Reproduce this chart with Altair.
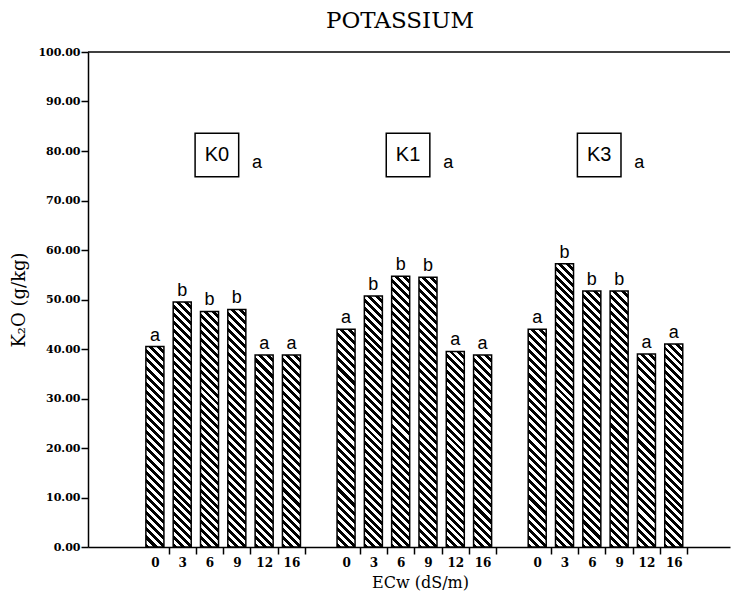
import json
import altair as alt
import pandas as pd

# ---------------- data ----------------
groups = ["K0", "K1", "K3"]
ecw_labels = ["0", "3", "6", "9", "12", "16"]
k0_values = [40.5, 49.5, 47.6, 48.0, 38.8, 38.8]
k1_values = [44.0, 50.7, 54.7, 54.5, 39.5, 38.8]
k3_values = [44.0, 57.2, 51.7, 51.7, 39.0, 41.0]
k0_letters = ["a", "b", "b", "b", "a", "a"]
k1_letters = ["a", "b", "b", "b", "a", "a"]
k3_letters = ["a", "b", "b", "b", "a", "a"]
group_letters = ["a", "a", "a"]
y_ticks = [0, 10, 20, 30, 40, 50, 60, 70, 80, 90, 100]

# ---------------- layout constants ----------------
W, H = 642, 495
X_DOMAIN = [-2.45, 21.06]
SLOTS_PER_GROUP = 7          # 6 bars + 1 empty slot
HALF_BAR = 0.33
px_per_slot = W / (X_DOMAIN[1] - X_DOMAIN[0])
px_per_unit = H / 100.0
bar_px = 2 * HALF_BAR * px_per_slot

rows = []
for g, (vals, lets) in enumerate(zip([k0_values, k1_values, k3_values],
                                     [k0_letters, k1_letters, k3_letters])):
    for i, (v, l) in enumerate(zip(vals, lets)):
        s = g * SLOTS_PER_GROUP + i
        rows.append(dict(idx=len(rows), group=groups[g], ecw=ecw_labels[i],
                         value=v, base=0, letter=l, slot=s,
                         lo=s - HALF_BAR, hi=s + HALF_BAR))
df = pd.DataFrame(rows)

gdf = pd.DataFrame(dict(
    group=groups,
    letter=group_letters,
    bslot=[g * SLOTS_PER_GROUP + 2.27 for g in range(len(groups))],
    aslot=[g * SLOTS_PER_GROUP + 3.74 for g in range(len(groups))],
    by=[79.2] * len(groups),
    ay=[76.6] * len(groups),
))

centers = [g * SLOTS_PER_GROUP + i for g in range(3) for i in range(6)]
bounds = [c + 0.5 for c in centers]
label_expr = ("datum.value % 1 !== 0 ? '' : " + json.dumps(ecw_labels)
              + "[datum.value % " + str(SLOTS_PER_GROUP) + "]")

x_axis = alt.Axis(
    values=sorted(centers + bounds),
    labelExpr=label_expr,
    labelOverlap=False,
    labelFlush=False,
    tickOpacity={"condition": {"test": "datum.value % 1 !== 0", "value": 1}, "value": 0},
    tickSize=7,
    tickWidth=1.5,
    tickColor="black",
    labelFont="DejaVu Serif",
    labelFontSize=12,
    labelFontWeight="bold",
    labelColor="black",
    labelPadding=3,
    domainColor="black",
    domainWidth=1.5,
    grid=False,
    title="ECw (dS/m)",
    titleFont="DejaVu Serif",
    titleFontSize=16,
    titleFontWeight="normal",
    titleColor="black",
    titlePadding=6,
    titleX=332,
)
y_axis = alt.Axis(
    values=y_ticks,
    format=".2f",
    tickSize=7,
    tickWidth=1.5,
    tickColor="black",
    labelFont="DejaVu Serif",
    labelFontSize=11,
    labelFontWeight="bold",
    labelColor="black",
    labelPadding=1,
    domainColor="black",
    domainWidth=1.5,
    grid=False,
    title="K₂O (g/kg)",
    titleFont="DejaVu Serif",
    titleFontSize=18,
    titleFontWeight="normal",
    titleColor="black",
    titlePadding=9,
)
x_scale = alt.Scale(domain=X_DOMAIN, nice=False, zero=False)
y_scale = alt.Scale(domain=[0, 100], nice=False)


def xe(field):
    return alt.X(f"{field}:Q", scale=x_scale, axis=x_axis)


def ye(field):
    return alt.Y(f"{field}:Q", scale=y_scale, axis=y_axis)


def hatch(h_px, w_px=bar_px, period=8.0):
    n = max(1, round((w_px + h_px) / period))
    stops = []
    for i in range(n):
        a, m, b = i / n, (i + 0.5) / n, (i + 1) / n
        stops += [alt.GradientStop(offset=a, color="black"),
                  alt.GradientStop(offset=m, color="black"),
                  alt.GradientStop(offset=m, color="white"),
                  alt.GradientStop(offset=b, color="white")]
    k = (w_px + h_px) / (w_px ** 2 + h_px ** 2)
    return alt.LinearGradient(gradient="linear", stops=stops,
                              x1=0, y1=1, x2=w_px * k, y2=1 - h_px * k)


base = alt.Chart(df)

layers = []
top_rule = alt.Chart(pd.DataFrame({"top": [100]})).mark_rule(
    color="black", strokeWidth=1.5).encode(y=ye("top"))
layers.append(top_rule)

for r in rows:
    layers.append(
        base.transform_filter(alt.datum.idx == r["idx"]).mark_bar(
            fill=hatch(r["value"] * px_per_unit),
            stroke="black", strokeWidth=1.5,
        ).encode(x=xe("lo"), x2="hi:Q", y=ye("value"), y2="base:Q")
    )

letters = base.mark_text(
    font="Liberation Sans", fontSize=18, color="black",
    baseline="alphabetic", dy=-6,
).encode(x=xe("slot"), y=ye("value"), text="letter:N")
layers.append(letters)

gbase = alt.Chart(gdf)
boxes = gbase.mark_point(
    shape="square", size=1900, filled=False, stroke="black",
    strokeWidth=1.5, opacity=1,
).encode(x=xe("bslot"), y=ye("by"))
box_text = gbase.mark_text(
    font="Liberation Sans", fontSize=20, color="black", baseline="middle",
).encode(x=xe("bslot"), y=ye("by"), text="group:N")
box_letters = gbase.mark_text(
    font="Liberation Sans", fontSize=18, color="black", baseline="alphabetic",
).encode(x=xe("aslot"), y=ye("ay"), text="letter:N")
layers += [boxes, box_text, box_letters]

chart = alt.layer(*layers).properties(
    width=W, height=H,
    title=alt.TitleParams(
        text="POTASSIUM", font="DejaVu Serif", fontSize=23,
        fontWeight="normal", color="black", anchor="middle",
        frame="group", dx=-9, dy=22, offset=12, baseline="bottom",
    ),
    padding={"left": 88, "top": 52, "right": 4, "bottom": 51},
    autosize=alt.AutoSizeParams(type="none"),
    background="white",
).configure_view(stroke=None)

chart.save("out.html", embed_options={"renderer": "svg", "actions": False})
